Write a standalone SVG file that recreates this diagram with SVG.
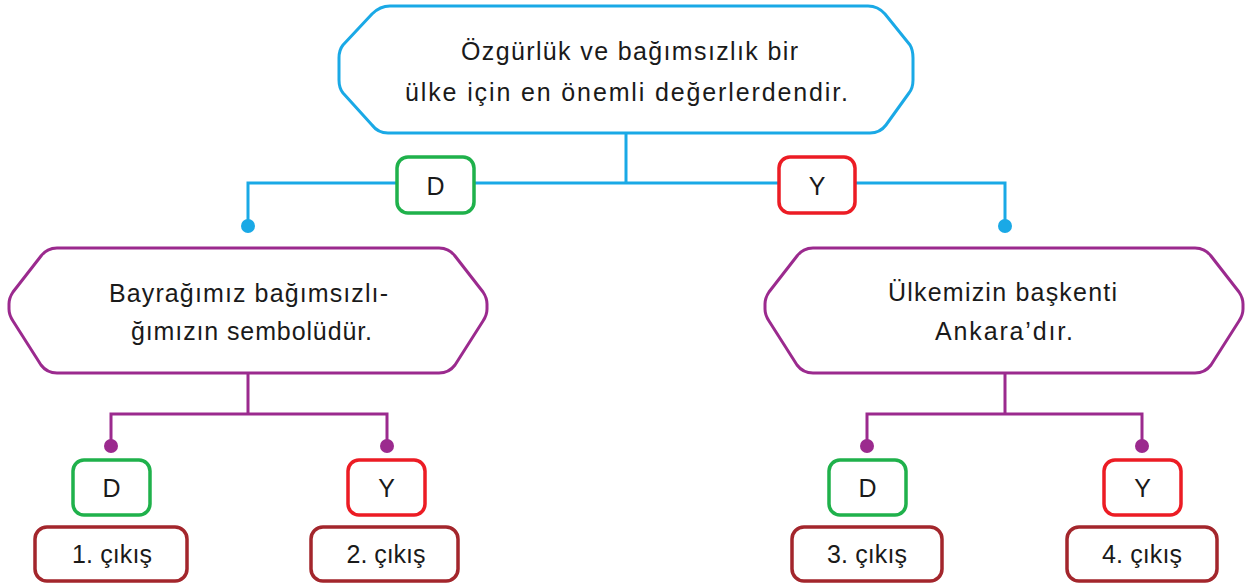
<svg xmlns="http://www.w3.org/2000/svg" width="1251" height="583" viewBox="0 0 1251 583">
<style>
text{font-family:"Liberation Sans",Arial,sans-serif;font-size:25px;fill:#1a1a1a;text-anchor:middle}
.hb{fill:#fff;stroke:#1aa9e6;stroke-width:3;stroke-linejoin:round}
.hp{fill:#fff;stroke:#9b2a8e;stroke-width:3;stroke-linejoin:round}
.lb{fill:none;stroke:#1aa9e6;stroke-width:3}
.lp{fill:none;stroke:#9b2a8e;stroke-width:3}
.db{fill:#1aa9e6}
.dp{fill:#9b2a8e}
.g{fill:#fff;stroke:#1fb14b;stroke-width:3.5}
.r{fill:#fff;stroke:#ec1c24;stroke-width:3.5}
.o{fill:#fff;stroke:#a3262c;stroke-width:3.5}
</style>
<g id="connectors">
<path class="lb" d="M626,133 V183 M248,226 V183 H1005 V226"/>
<circle class="db" cx="248" cy="226" r="7"/>
<circle class="db" cx="1005" cy="226" r="7"/>
<path class="lp" d="M248,373 V414 M111,446 V414 H387 V446"/>
<circle class="dp" cx="111" cy="446" r="7"/>
<circle class="dp" cx="387" cy="446" r="7"/>
<path class="lp" d="M1005,373 V414 M867,446 V414 H1142 V446"/>
<circle class="dp" cx="867" cy="446" r="7"/>
<circle class="dp" cx="1142" cy="446" r="7"/>
</g>
<g id="top">
<path class="hb" d="M390,6 H868 Q878,6 885,14 L910,45 Q913,50 913,58 V80 Q913,88 909,93 L886,125 Q880,133 870,133 H388 Q378,133 372,125 L343,93 Q339,88 339,80 V58 Q339,50 343,45 L372,14 Q380,6 390,6 Z"/>
<text x="629.5" y="60" textLength="337" lengthAdjust="spacing">Özgürlük ve bağımsızlık bir</text>
<text x="626.5" y="101" textLength="443" lengthAdjust="spacing">ülke için en önemli değerlerdendir.</text>
</g>
<g id="d1"><rect class="g" x="397" y="157" width="77" height="56" rx="11"/><text x="435.5" y="195">D</text></g>
<g id="y1"><rect class="r" x="779" y="157" width="76" height="56" rx="11"/><text x="817" y="195">Y</text></g>
<g id="left">
<path class="hp" d="M57,248 H439 Q449,248 455,256 L483,292 Q487,298 487,304 V309 Q487,315 483,321 L455,365 Q449,373 439,373 H57 Q47,373 41,365 L13,321 Q9,315 9,309 V304 Q9,298 13,292 L41,256 Q47,248 57,248 Z"/>
<text x="248.5" y="302" textLength="279" lengthAdjust="spacing">Bayrağımız bağımsızlı-</text>
<text x="251.5" y="340" textLength="241" lengthAdjust="spacing">ğımızın sembolüdür.</text>
</g>
<g id="right">
<path class="hp" d="M813,248 H1195 Q1205,248 1211,256 L1239,292 Q1243,298 1243,304 V309 Q1243,315 1239,321 L1211,365 Q1205,373 1195,373 H813 Q803,373 797,365 L769,321 Q765,315 765,309 V304 Q765,298 769,292 L797,256 Q803,248 813,248 Z"/>
<text x="1002.5" y="301" textLength="229" lengthAdjust="spacing">Ülkemizin başkenti</text>
<text x="1004" y="340" textLength="138" lengthAdjust="spacing">Ankara’dır.</text>
</g>
<g id="d2"><rect class="g" x="73" y="460" width="77" height="55" rx="11"/><text x="111.5" y="497">D</text></g>
<g id="y2"><rect class="r" x="348" y="460" width="77" height="55" rx="11"/><text x="386.5" y="497">Y</text></g>
<g id="d3"><rect class="g" x="829" y="460" width="77" height="55" rx="11"/><text x="867.5" y="497">D</text></g>
<g id="y3"><rect class="r" x="1104" y="460" width="77" height="55" rx="11"/><text x="1142.5" y="497">Y</text></g>
<g id="c1"><rect class="o" x="35" y="527" width="152" height="54" rx="12"/><text x="112" y="563" textLength="80" lengthAdjust="spacing">1. çıkış</text></g>
<g id="c2"><rect class="o" x="311" y="527" width="147" height="54" rx="12"/><text x="386" y="563" textLength="79" lengthAdjust="spacing">2. çıkış</text></g>
<g id="c3"><rect class="o" x="792" y="527" width="150" height="54" rx="12"/><text x="867" y="563" textLength="80" lengthAdjust="spacing">3. çıkış</text></g>
<g id="c4"><rect class="o" x="1067" y="527" width="150" height="54" rx="12"/><text x="1142" y="563" textLength="80" lengthAdjust="spacing">4. çıkış</text></g>
</svg>
